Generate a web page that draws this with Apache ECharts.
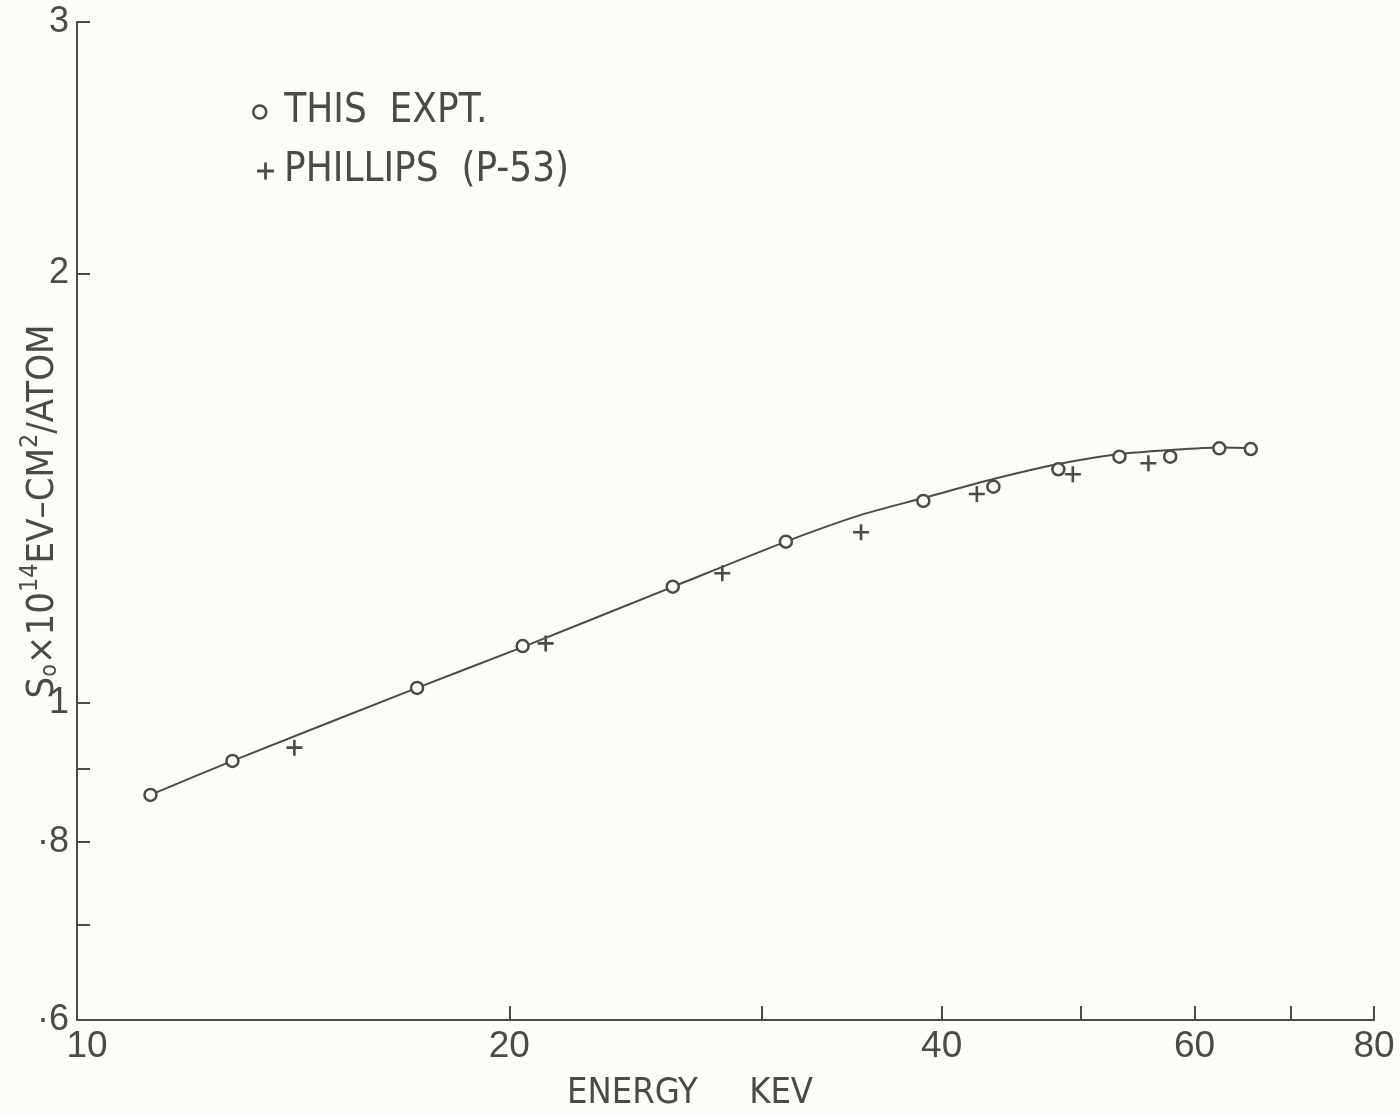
<!DOCTYPE html>
<html>
<head>
<meta charset="utf-8">
<script src="https://cdn.jsdelivr.net/npm/echarts@6/dist/echarts.min.js"></script>
<style>
  html, body { margin: 0; padding: 0; background: #fdfdf8; }
  #chart { width: 1400px; height: 1114px; }
</style>
</head>
<body>
<div id="chart"></div>
<script>
// Stopping cross section S0 (x10^-14 eV-cm^2/atom) against energy (keV)
const energyThisExpt   = [11.25, 12.83, 17.25, 20.43, 25.99, 31.16, 38.84, 43.46, 48.23, 53.19, 57.70, 62.43, 65.66];
const stoppingThisExpt = [0.8626, 0.9112, 1.025, 1.0965, 1.2068, 1.2976, 1.3858, 1.4181, 1.4584, 1.4882, 1.4882, 1.5085, 1.5068];

const energyPhillips   = [14.17, 21.20, 28.14, 35.15, 42.32, 49.36, 55.72];
const stoppingPhillips = [0.9309, 1.1013, 1.2332, 1.3175, 1.4015, 1.4467, 1.4725];

// smooth curve drawn through the measurements
const energyCurve   = [11.25, 12.83, 17.25, 20.43, 25.99, 31.16, 35.15, 38.84, 43.46, 48.23, 53.19, 57.70, 62.43, 65.66];
const stoppingCurve = [0.8626, 0.9112, 1.025, 1.0948, 1.2064, 1.2978, 1.3549, 1.3923, 1.4356, 1.4708, 1.4948, 1.5045, 1.5106, 1.5094];

// axis ticks and labels
const xTickValues  = [20, 30, 40, 50, 60, 70, 80];
const xLabelValues = [10, 20, 40, 60, 80];
const yTickValues  = [0.7, 0.8, 0.9, 1, 2, 3];
const yLabelValues = [0.6, 0.8, 1, 2, 3];
const yLabelText   = { '0.6': '·6', '0.8': '·8', '1': '1', '2': '2', '3': '3' };

const nameThisExpt = 'THIS  EXPT.';
const namePhillips = 'PHILLIPS  (P-53)';

const bg = '#fdfdf8';
const ink = '#4a4a46';
const font = '"Liberation Sans", Arial, sans-serif';
const narrow = '"Liberation Sans Narrow", "DejaVu Sans Condensed", "Liberation Sans", sans-serif';
const plusPath = 'path://M-1.3,-8L1.3,-8L1.3,-1.3L8,-1.3L8,1.3L1.3,1.3L1.3,8L-1.3,8L-1.3,1.3L-8,1.3L-8,-1.3L-1.3,-1.3Z';

const pairs = (xs, ys) => xs.map((x, i) => [x, ys[i]]);

const chart = echarts.init(document.getElementById('chart'), null, { renderer: 'canvas' });

chart.setOption({
  backgroundColor: bg,
  animation: false,
  grid: { left: 77, right: 26, top: 22, bottom: 94, outerBoundsMode: 'none' },
  legend: [
    {
      data: [{ name: nameThisExpt, icon: 'circle',
               itemStyle: { color: bg, borderColor: ink, borderWidth: 2.5 } }],
      left: 252, top: 92, padding: 0,
      itemWidth: 13, itemHeight: 13,
      selectedMode: false,
      textStyle: { fontSize: 40, color: ink, fontFamily: narrow, padding: [0, 0, 0, 13] }
    },
    {
      data: [{ name: namePhillips, icon: plusPath, itemStyle: { color: ink } }],
      left: 257, top: 151, padding: 0,
      itemWidth: 17, itemHeight: 17,
      selectedMode: false,
      textStyle: { fontSize: 40, color: ink, fontFamily: narrow, padding: [0, 0, 0, 5] }
    }
  ],
  xAxis: {
    type: 'log', logBase: 10, min: 10, max: 80,
    name: 'ENERGY     KEV',
    nameLocation: 'middle', nameGap: 56, nameMoveOverlap: false,
    nameTextStyle: { fontSize: 36, color: ink, fontFamily: narrow, padding: [0, 71, 0, 0] },
    axisLine: { show: true, lineStyle: { color: ink, width: 2 } },
    axisTick: { show: true, inside: true, length: 14, customValues: xTickValues,
                lineStyle: { color: ink, width: 2 } },
    minorTick: { show: false },
    splitLine: { show: false },
    axisLabel: {
      customValues: xLabelValues,
      margin: 8, fontSize: 37, color: ink, fontFamily: font,
      formatter: v => Math.round(v) === 10 ? '{lead|10}' : String(Math.round(v)),
      rich: { lead: { fontSize: 37, color: ink, fontFamily: font, padding: [0, 0, 0, 20] } }
    }
  },
  yAxis: {
    type: 'log', logBase: 10, min: 0.6, max: 3,
    name: '{b|S}{sub|o}{b|×10}{sup|14}{b|EV–CM}{sup|2}{b|/ATOM}',
    nameLocation: 'middle', nameRotate: 90, nameGap: 15, nameMoveOverlap: false,
    nameTextStyle: {
      color: ink, fontFamily: narrow, padding: [0, 0, 0, 19],
      rich: {
        b:   { fontSize: 38, color: ink, fontFamily: narrow, lineHeight: 44, verticalAlign: 'bottom' },
        sub: { fontSize: 23, color: ink, fontFamily: narrow, lineHeight: 23, verticalAlign: 'bottom' },
        sup: { fontSize: 25, color: ink, fontFamily: narrow, lineHeight: 25, verticalAlign: 'top' }
      }
    },
    axisLine: { show: true, lineStyle: { color: ink, width: 2 } },
    axisTick: { show: true, inside: true, length: 13, customValues: yTickValues,
                lineStyle: { color: ink, width: 2 } },
    minorTick: { show: false },
    splitLine: { show: false },
    axisLabel: {
      customValues: yLabelValues,
      margin: 8, fontSize: 36, color: ink, fontFamily: font,
      formatter: v => yLabelText[String(Math.round(v * 10) / 10)] || ''
    }
  },
  series: [
    {
      name: 'fit',
      type: 'line',
      data: pairs(energyCurve, stoppingCurve),
      smooth: 0.25,
      showSymbol: false,
      lineStyle: { color: ink, width: 2 },
      z: 1,
      silent: true
    },
    {
      name: nameThisExpt,
      type: 'scatter',
      data: pairs(energyThisExpt, stoppingThisExpt),
      symbol: 'circle',
      symbolSize: 12,
      itemStyle: { color: bg, borderColor: ink, borderWidth: 2.5, opacity: 1 },
      z: 3
    },
    {
      name: namePhillips,
      type: 'scatter',
      data: pairs(energyPhillips, stoppingPhillips),
      symbol: plusPath,
      symbolSize: 16,
      itemStyle: { color: ink, opacity: 1 },
      z: 3
    }
  ]
});
</script>
</body>
</html>
